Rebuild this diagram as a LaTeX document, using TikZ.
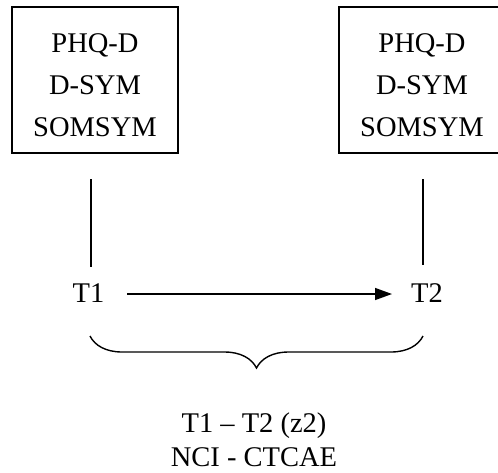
\documentclass[tikz,border=0pt]{standalone}
\usepackage{fontspec}
\setmainfont{Liberation Serif}
\usetikzlibrary{arrows.meta,decorations.pathreplacing}
\begin{document}
\begin{tikzpicture}[x=1pt,y=-1pt,
  every node/.style={font=\fontsize{28.5}{42}\selectfont, inner sep=0pt},
  measbox/.style={draw, line width=1.4pt, minimum width=166pt, minimum height=146pt},
  boxtext/.style={align=center},
  link/.style={line width=1.4pt},
  flow/.style={line width=1.4pt, -{Triangle[length=17pt,width=12pt]}},
  span/.style={line width=1.4pt, decorate, decoration={brace, amplitude=32pt}},
  summary/.style={align=center, font=\fontsize{28.5}{34}\selectfont}]
\clip (0,0) rectangle (498,472);
\useasboundingbox (0,0) rectangle (498,472);
% measurement boxes and their contents
\node[measbox] (b1) at (95,80) {};
\node[measbox] (b2) at (422,80) {};
\node[boxtext] (c1) at (b1 |- 0,85.5) {PHQ-D\\D-SYM\\SOMSYM};
\node[boxtext] (c2) at (b2 |- 0,85.5) {PHQ-D\\D-SYM\\SOMSYM};
% time points
\node (t1) at (88.5,293) {T1};
\node (t2) at (427,293) {T2};
% vertical links between boxes and time points
\coordinate (l1a) at (91,179);
\coordinate (l1b) at (91,267);
\coordinate (l2a) at (423,179);
\coordinate (l2b) at (423,265);
\draw[link] (l1a) -- (l1b);
\draw[link] (l2a) -- (l2b);
% change arrow from T1 to T2
\coordinate (a1) at (127,294);
\coordinate (a2) at (392,294);
\draw[flow] (a1) -- (a2);
% brace over the interval
\coordinate (br) at (423,336);
\coordinate (bl) at (90,336);
\draw[span] (br) -- (bl);
% summary text
\node[summary] (s) at (254,440) {T1 -- T2 (z2)\\NCI - CTCAE};
\end{tikzpicture}
\end{document}
